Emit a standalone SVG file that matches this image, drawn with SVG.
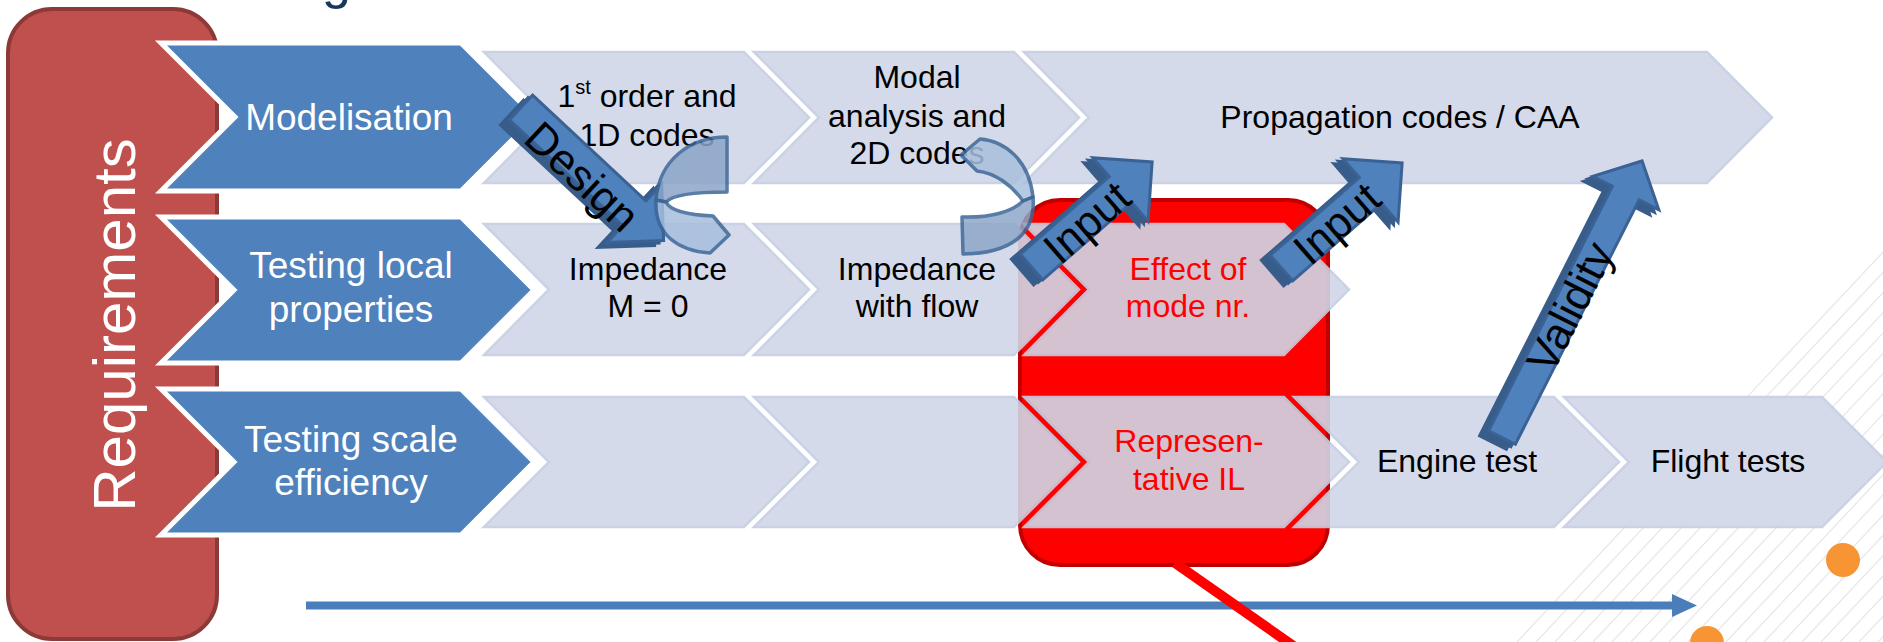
<svg xmlns="http://www.w3.org/2000/svg" width="1883" height="642" viewBox="0 0 1883 642">
<style>
.lc{fill:#D0D7E8;stroke:#C6CEE3;stroke-width:2.5;opacity:.9}
.bc{fill:#4F81BD;stroke:#FFFFFF;stroke-width:5;stroke-linejoin:miter}
.wt{font-family:"Liberation Sans",Arial,sans-serif;font-size:37px;fill:#FFFFFF;text-anchor:middle}
.bt{font-family:"Liberation Sans",Arial,sans-serif;font-size:32px;fill:#000000;text-anchor:middle}
.rt{font-family:"Liberation Sans",Arial,sans-serif;font-size:32px;fill:#FF0000;text-anchor:middle}
.at{font-family:"Liberation Sans",Arial,sans-serif;font-size:44px;fill:#000000;text-anchor:middle}
.af{fill:#4F81BD;stroke:#3A6294;stroke-width:3;stroke-linejoin:miter}
.ad{fill:#385D8A;stroke:#385D8A;stroke-width:3}
.cv{stroke:#3C6797;stroke-width:3.5;stroke-linejoin:round;opacity:.85}
</style>
<rect width="1883" height="642" fill="#FFFFFF"/>
<g id="hatch" stroke="#E8E8E8" stroke-width="1.3" fill="none">
<path d="M1517,642 l600,-639 M1536,642 l600,-639 M1555,642 l600,-639 M1574,642 l600,-639 M1593,642 l600,-639 M1612,642 l600,-639 M1631,642 l600,-639 M1650,642 l600,-639 M1669,642 l600,-639 M1688,642 l600,-639 M1707,642 l600,-639 M1726,642 l600,-639 M1745,642 l600,-639 M1764,642 l600,-639 M1783,642 l600,-639 M1802,642 l600,-639 M1821,642 l600,-639 M1840,642 l600,-639 M1859,642 l600,-639 M1878,642 l600,-639"/>
</g>
<text x="322" y="-2" font-family="Liberation Sans, Arial, sans-serif" font-size="52" fill="#17375E">g</text>
<g id="requirements">
<rect x="8" y="9" width="209" height="630" rx="44" fill="#C0504D" stroke="#8C3A38" stroke-width="4"/>
<text transform="translate(135,325) rotate(-90)" font-family="Liberation Sans, Arial, sans-serif" font-size="60" fill="#FFFFFF" text-anchor="middle">Requirements</text>
</g>
<g id="focus-box">
<rect x="1020" y="200" width="308" height="365" rx="40" fill="#FF0000" stroke="#C00000" stroke-width="4"/>
</g>
<g id="r1c1"><polygon class="lc" points="484,52 744,52 809,117.5 744,183 484,183 549,117.5"/><text class="bt" x="647" y="107">1<tspan font-size="20" dy="-13">st</tspan><tspan dy="13"> order and</tspan></text><text class="bt" x="647" y="146">1D codes</text></g>
<g id="r1c2"><polygon class="lc" points="754,52 1014,52 1079,117.5 1014,183 754,183 819,117.5"/><text class="bt" x="917" y="88">Modal</text><text class="bt" x="917" y="127">analysis and</text><text class="bt" x="917" y="164">2D codes</text></g>
<g id="r1c3"><polygon class="lc" points="1024,52 1707,52 1772,117.5 1707,183 1024,183 1089,117.5"/><text class="bt" x="1400" y="128">Propagation codes / CAA</text></g>
<g id="r2c1"><polygon class="lc" points="484,224 744,224 809,289.5 744,355 484,355 549,289.5"/><text class="bt" x="648" y="280">Impedance</text><text class="bt" x="648" y="317">M = 0</text></g>
<g id="r2c2"><polygon class="lc" points="754,224 1014,224 1079,289.5 1014,355 754,355 819,289.5"/><text class="bt" x="917" y="280">Impedance</text><text class="bt" x="917" y="317">with flow</text></g>
<g id="r2c3"><polygon class="lc" points="1024,224 1284,224 1349,289.5 1284,355 1024,355 1089,289.5"/><text class="rt" x="1188" y="280">Effect of</text><text class="rt" x="1188" y="317">mode nr.</text></g>
<g id="r3c1"><polygon class="lc" points="484,397 744,397 809,462 744,527 484,527 549,462"/></g>
<g id="r3c2"><polygon class="lc" points="754,397 1014,397 1079,462 1014,527 754,527 819,462"/></g>
<g id="r3c3"><polygon class="lc" points="1024,397 1284,397 1349,462 1284,527 1024,527 1089,462"/><text class="rt" x="1189" y="452">Represen-</text><text class="rt" x="1189" y="490">tative IL</text></g>
<g id="r3c4"><polygon class="lc" points="1294,397 1554,397 1619,462 1554,527 1294,527 1359,462"/><text class="bt" x="1457" y="472">Engine test</text></g>
<g id="r3c5"><polygon class="lc" points="1564,397 1822,397 1887,462 1822,527 1564,527 1629,462"/><text class="bt" x="1728" y="472">Flight tests</text></g>
<g id="modelisation"><polygon class="bc" points="161,43 461,43 535,117 461,191 161,191 235,117"/><text class="wt" x="349" y="130">Modelisation</text></g>
<g id="testing-local"><polygon class="bc" points="161,217 461,217 534,290 461,363 161,363 234,290"/><text class="wt" x="351" y="278">Testing local</text><text class="wt" x="351" y="322">properties</text></g>
<g id="testing-scale"><polygon class="bc" points="161,389 461,389 534,462 461,535 161,535 234,462"/><text class="wt" x="351" y="452">Testing scale</text><text class="wt" x="351" y="495">efficiency</text></g>
<g id="connectors">
<g id="timeline"><line x1="306" y1="605.5" x2="1674" y2="605.5" stroke="#4A7EBB" stroke-width="8"/><polygon points="1672,594 1697,605.5 1672,617" fill="#4A7EBB"/></g>
<line id="callout" x1="1175" y1="563" x2="1302" y2="652" stroke="#FF0000" stroke-width="10"/>
<g id="design">
<g transform="translate(512,112.5) rotate(43)"><polygon class="ad" points="0,-17 155,-17 155,-40 195,0 155,40 155,17 0,17"/></g>
<g transform="translate(516.5,110) rotate(43)"><polygon class="ad" points="0,-17 155,-17 155,-40 195,0 155,40 155,17 0,17"/></g>
<g transform="translate(521,107.5) rotate(43)"><polygon class="af" points="0,-17 155,-17 155,-40 195,0 155,40 155,17 0,17"/><text class="at" x="92" y="24">Design</text></g>
</g>
<g id="loop1">
<path class="cv" fill="#8CA5C9" d="M727,137 C690,137 659,160 656,200 L666,202 C672,195 695,192 727,192 Z"/>
<path class="cv" fill="#A7BEDD" d="M656,200 C654,236 680,251 710,253 L729,235 L713,216 C690,215 670,211 666,202 Z"/>
</g>
<g id="loop2">
<path class="cv" fill="#A9C0DE" d="M977,171 L961,155 L980,139 C1005,141 1029,160 1033,197 L1023,201 C1012,185 995,173 977,171 Z"/>
<path class="cv" fill="#8EA7C9" d="M1033,197 C1036,231 1015,253 963,254 L962,217 C990,218 1012,212 1023,201 Z"/>
</g>
<g id="input1">
<g transform="translate(1022.5,272) rotate(-41.07)"><polygon class="ad" points="0,-17 118,-17 118,-42 160,0 118,42 118,17 0,17"/></g>
<g transform="translate(1027,269.5) rotate(-41.07)"><polygon class="ad" points="0,-17 118,-17 118,-42 160,0 118,42 118,17 0,17"/></g>
<g transform="translate(1031.5,267) rotate(-41.07)"><polygon class="af" points="0,-17 118,-17 118,-42 160,0 118,42 118,17 0,17"/><text class="at" x="71" y="18">Input</text></g>
</g>
<g id="input2">
<g transform="translate(1272.5,273) rotate(-41.07)"><polygon class="ad" points="0,-17 118,-17 118,-42 160,0 118,42 118,17 0,17"/></g>
<g transform="translate(1277,270.5) rotate(-41.07)"><polygon class="ad" points="0,-17 118,-17 118,-42 160,0 118,42 118,17 0,17"/></g>
<g transform="translate(1281.5,268) rotate(-41.07)"><polygon class="af" points="0,-17 118,-17 118,-42 160,0 118,42 118,17 0,17"/><text class="at" x="71" y="18">Input</text></g>
</g>
<g id="validity">
<g transform="translate(1493,442.5) rotate(-63.14)"><polygon class="ad" points="0,-15 274,-15 274,-37 310,0 274,37 274,15 0,15"/></g>
<g transform="translate(1497.5,440) rotate(-63.14)"><polygon class="ad" points="0,-15 274,-15 274,-37 310,0 274,37 274,15 0,15"/></g>
<g transform="translate(1502,437.5) rotate(-63.14)"><polygon class="af" points="0,-15 274,-15 274,-37 310,0 274,37 274,15 0,15"/><text class="at" x="147" y="17">Validity</text></g>
</g>
</g>
<g id="dots" fill="#F79433"><circle cx="1843" cy="560" r="17"/><circle cx="1707" cy="643" r="17"/></g>
</svg>
